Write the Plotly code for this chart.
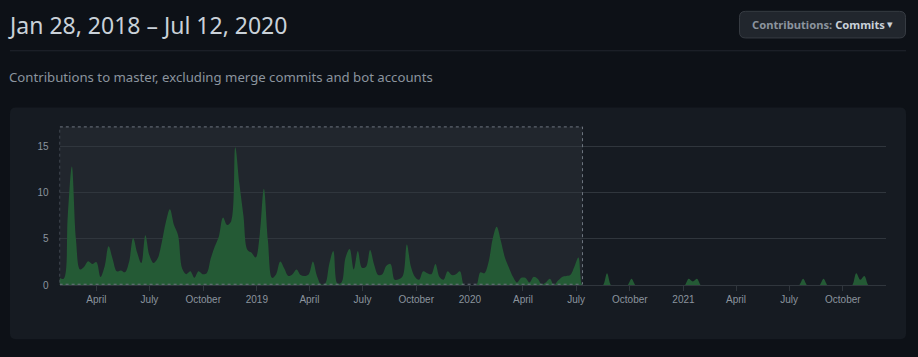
import pandas as pd
import plotly.graph_objects as go

W, H = 918, 357

# ---------------- data ----------------
start_date = "2018-01-28"
weekly_commits = [
    0.8, 0.7, 7.5, 12.8, 5.0, 1.7, 2.0, 2.6, 2.3, 2.5,
    0.9, 2.0, 4.2, 2.8, 1.5, 1.6, 1.4, 2.5, 5.1, 3.5,
    2.4, 5.4, 3.2, 2.4, 2.9, 4.6, 6.8, 8.2, 6.5, 5.4,
    1.8, 1.2, 1.5, 0.8, 1.5, 1.2, 1.3, 2.9, 4.2, 5.3,
    7.3, 6.5, 6.9, 14.9, 11.0, 7.5, 3.8, 3.5, 3.0, 5.5,
    10.4, 4.8, 0.8, 1.2, 2.55, 1.8, 1.0, 1.2, 1.7, 1.1,
    1.0, 1.2, 2.55, 1.0, 0.1, 0.2, 2.3, 3.7, 0.2, 0.3,
    3.0, 3.9, 1.7, 3.7, 1.9, 2.0, 3.8, 2.2, 1.1, 1.2,
    2.1, 2.3, 0.6, 0.65, 1.0, 4.4, 2.0, 0.9, 0.6, 1.5,
    1.3, 1.2, 2.3, 0.9, 0.6, 1.5, 1.1, 1.2, 1.5, 0,
    0, 0, 0, 1.4, 1.3, 2.5, 5.0, 6.3, 4.8, 3.0,
    1.9, 0.9, 0.3, 0.8, 0.8, 0.3, 0.9, 0.7, 0.1, 0.3,
    0.7, 0, 0.5, 0.9, 1.0, 1.1, 2.0, 3.0, 0, 0,
    0, 0, 0, 0, 1.3, 0, 0, 0, 0, 0,
    0.7, 0, 0, 0, 0, 0, 0, 0, 0, 0,
    0, 0, 0, 0, 0.7, 0.4, 0.7, 0, 0, 0,
    0, 0, 0, 0, 0, 0, 0, 0, 0, 0,
    0, 0, 0, 0, 0, 0, 0, 0, 0, 0,
    0, 0, 0.7, 0, 0, 0, 0, 0.7, 0, 0,
    0, 0, 0, 0, 0, 1.3, 0.6, 1.0, 0, 0,
]
week_dates = pd.date_range(start_date, periods=len(weekly_commits), freq="7D")

range_start = "2018-01-28"
range_end = "2020-07-12"
axis_end = "2021-12-14"

x_tick_dates = ["2018-04-01", "2018-07-01", "2018-10-01", "2019-01-01",
                "2019-04-01", "2019-07-01", "2019-10-01", "2020-01-01",
                "2020-04-01", "2020-07-01", "2020-10-01", "2021-01-01",
                "2021-04-01", "2021-07-01", "2021-10-01"]
x_tick_labels = ["April", "July", "October", "2019", "April", "July", "October",
                 "2020", "April", "July", "October", "2021", "April", "July", "October"]
y_tick_vals = [0, 5, 10, 15]

title_text = "Jan 28, 2018 \u2013 Jul 12, 2020"
subtitle_text = "Contributions to master, excluding merge commits and bot accounts"

# ---------------- helpers ----------------
def px(x):
    return x / W

def py(y):
    return 1 - y / H

def rounded_rect(x0, y0, x1, y1, r):
    rx, ry = r / W, r / H
    X0, X1 = px(x0), px(x1)
    Y0, Y1 = py(y1), py(y0)
    return (f"M {X0+rx},{Y0} L {X1-rx},{Y0} Q {X1},{Y0} {X1},{Y0+ry} "
            f"L {X1},{Y1-ry} Q {X1},{Y1} {X1-rx},{Y1} L {X0+rx},{Y1} "
            f"Q {X0},{Y1} {X0},{Y1-ry} L {X0},{Y0+ry} Q {X0},{Y0} {X0+rx},{Y0} Z")

PAGE_BG = "#0d1117"
PANEL_BG = "#161b22"
HILITE_BG = "#21262d"
GRID = "#30363d"
MUTED = "#8b949e"
FG = "#c9d1d9"
GREEN = "#245a35"

plot_left, plot_right = 59.6, 886
plot_top, plot_bottom = 128.7, 289.3
y_top_val = (plot_bottom - plot_top) / 9.4

fig = go.Figure()
fig.add_trace(go.Scatter(
    x=week_dates, y=weekly_commits, mode="lines",
    line=dict(shape="spline", smoothing=1.0, width=0, color=GREEN),
    fill="tozeroy", fillcolor=GREEN, hoverinfo="skip", showlegend=False,
))

shapes = [
    dict(type="path", path=rounded_rect(10, 109, 906, 344, 6), xref="paper", yref="paper",
         fillcolor=PANEL_BG, line=dict(width=0), layer="below"),
    dict(type="line", xref="paper", yref="paper", x0=px(10), x1=px(906), y0=py(51.5), y1=py(51.5),
         line=dict(color="#21262d", width=1), layer="below"),
    dict(type="path", path=rounded_rect(739.5, 11.5, 905.5, 38.5, 6), xref="paper", yref="paper",
         fillcolor="#21262d", line=dict(color="#363b42", width=1), layer="below"),
    dict(type="rect", xref="x", yref="paper", x0=range_start, x1=range_end,
         y0=py(plot_bottom - 1), y1=py(plot_top), fillcolor=HILITE_BG, line=dict(width=0), layer="below"),
    dict(type="rect", xref="x", yref="paper", x0=range_start, x1=range_end,
         y0=py(plot_bottom - 1), y1=py(plot_top), fillcolor="rgba(0,0,0,0)",
         line=dict(color="#6e7681", width=1, dash="3px,3px"), layer="above"),
]

annotations = [
    dict(text=title_text, xref="paper", yref="paper", x=px(6), y=py(25), xanchor="left", yanchor="middle",
         showarrow=False, font=dict(family="Noto Sans", size=23, color=FG)),
    dict(text=subtitle_text, xref="paper", yref="paper", x=px(7), y=py(78), xanchor="left", yanchor="middle",
         showarrow=False, font=dict(family="Noto Sans", size=13.2, color=MUTED)),
    dict(text=f"<b><span style='color:{MUTED}'>Contributions:</span> Commits</b>",
         xref="paper", yref="paper", x=px(750), y=py(25), xanchor="left", yanchor="middle",
         showarrow=False, font=dict(family="Noto Sans", size=11.2, color=FG)),
    dict(text="\u25BE", xref="paper", yref="paper", x=px(890), y=py(25), xanchor="center", yanchor="middle",
         showarrow=False, font=dict(family="DejaVu Sans", size=11, color=FG)),
]

fig.update_layout(
    width=W, height=H,
    margin=dict(l=0, r=0, t=0, b=0),
    paper_bgcolor=PAGE_BG, plot_bgcolor="rgba(0,0,0,0)",
    shapes=shapes, annotations=annotations,
    xaxis=dict(
        domain=[px(plot_left), px(plot_right)],
        type="date", range=[range_start, axis_end],
        tickvals=x_tick_dates, ticktext=x_tick_labels,
        showgrid=False, zeroline=False,
        showline=True, linecolor=GRID, linewidth=1,
        ticks="outside", ticklen=5, tickcolor=GRID,
        tickfont=dict(family="Liberation Sans, Arial", size=10, color=MUTED),
        fixedrange=True,
    ),
    yaxis=dict(
        domain=[py(plot_bottom), py(plot_top)],
        range=[0, y_top_val],
        tickvals=y_tick_vals,
        showgrid=True, gridcolor=GRID, gridwidth=1,
        zeroline=False, showline=False,
        ticks="outside", ticklen=8, tickcolor="rgba(0,0,0,0)",
        tickfont=dict(family="Liberation Sans, Arial", size=10, color=MUTED),
        fixedrange=True,
    ),
)

fig.write_html(
    "out.html",
    config={"displayModeBar": False, "staticPlot": True},
    post_script=(
        "var s=document.createElement('style');"
        "s.textContent='html,body{margin:0;padding:0;height:357px;overflow:hidden;"
        "background:#0d1117;line-height:0;font-size:0;}';"
        "document.head.appendChild(s);"
    ),
)
